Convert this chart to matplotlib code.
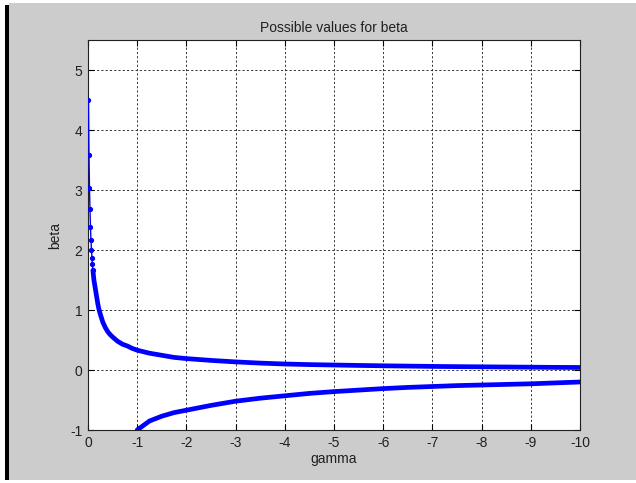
import matplotlib
matplotlib.use("Agg")
import matplotlib.pyplot as plt
from matplotlib.patches import Rectangle

plt.rcParams['font.family'] = ['Liberation Sans', 'DejaVu Sans']

title = "Possible values for beta"
xlabel = "gamma"
ylabel = "beta"
xticks = [0, -1, -2, -3, -4, -5, -6, -7, -8, -9, -10]
yticks = [-1, 0, 1, 2, 3, 4, 5]

gamma_upper = [-0.01, -0.02, -0.03, -0.04, -0.05, -0.06, -0.07, -0.08, -0.09, -0.10,
               -0.12, -0.14, -0.16, -0.18, -0.2, -0.22, -0.25, -0.3, -0.35, -0.4, -0.45,
               -0.5, -0.6, -0.7, -0.8, -0.9, -1.0, -1.25, -1.5, -1.75, -2.0, -2.5,
               -3.0, -3.5, -4.0, -4.5, -5.0, -5.5, -6.0, -6.5, -7.0, -7.5, -8.0,
               -8.5, -9.0, -9.5, -10.0]
beta_upper = [4.5, 3.58, 3.04, 2.68, 2.39, 2.17, 2.0, 1.87, 1.76, 1.66,
              1.5, 1.4, 1.3, 1.2, 1.1, 1.02, 0.93, 0.8, 0.71, 0.64, 0.59,
              0.55, 0.48, 0.43, 0.40, 0.36, 0.33, 0.28, 0.245, 0.21, 0.19, 0.16,
              0.135, 0.115, 0.10, 0.09, 0.083, 0.076, 0.07, 0.065, 0.06, 0.056, 0.053,
              0.05, 0.047, 0.044, 0.042]

gamma_lower = [-1.0, -1.1, -1.25, -1.5, -1.75, -2.0, -2.5, -3.0, -3.5, -4.0, -4.5,
               -5.0, -5.5, -6.0, -6.5, -7.0, -7.5, -8.0, -8.5, -9.0, -9.5, -10.0]
beta_lower = [-1.0, -0.94, -0.85, -0.77, -0.71, -0.67, -0.59, -0.52, -0.47, -0.43, -0.39,
              -0.36, -0.335, -0.31, -0.29, -0.275, -0.26, -0.25, -0.24, -0.23, -0.215, -0.2]

W, H = 636, 483
fig = plt.figure(figsize=(W / 100, H / 100), dpi=100, facecolor='white')
# gray figure panel and black left bar
fig.patches.append(Rectangle((9 / W, 3 / H), (W - 9) / W, (480 - 3) / H,
                             transform=fig.transFigure, facecolor='#cccccc',
                             edgecolor='none', zorder=-10))
fig.patches.append(Rectangle((5 / W, 3 / H), 4 / W, (478 - 3) / H,
                             transform=fig.transFigure, facecolor='black',
                             edgecolor='none', zorder=-10))

ax = fig.add_axes([88 / W, 1 - 430 / H, (580 - 88) / W, (430 - 40) / H])
ax.set_zorder(5)
ax.set_facecolor('white')

blue = '#0000ff'
n_sparse = 10
# thin line through the whole upper curve
ax.plot(gamma_upper, beta_upper, '-', color=blue, lw=1.0, zorder=3)
# sparse point markers on the steep part
ax.plot(gamma_upper[:n_sparse], beta_upper[:n_sparse], linestyle='none',
        color=blue, marker='.', ms=5.5, zorder=3)
# dense part rendered as a solid band
ax.plot(gamma_upper[n_sparse - 1:], beta_upper[n_sparse - 1:], '-', color=blue, lw=3.4,
        solid_capstyle='round', solid_joinstyle='round', zorder=3)
ax.plot(gamma_lower, beta_lower, '-', color=blue, lw=3.4,
        solid_capstyle='round', solid_joinstyle='round', zorder=3)

ax.set_xlim(0, -10)
ax.set_ylim(-1, 5.5)
ax.set_xticks(xticks)
ax.set_xticklabels([str(t) for t in xticks])
ax.set_yticks(yticks)
ax.set_yticklabels([str(t) for t in yticks])
ax.grid(True, color='#333333', linestyle=(0, (2.2, 2.2)), linewidth=0.7)
ax.tick_params(direction='in', length=4, width=0.8, top=True, right=True,
               labelsize=10, labelcolor='#202020', pad=4)
for s in ax.spines.values():
    s.set_color('#202020')
    s.set_linewidth(0.8)

ax.set_title(title, fontsize=10, color='#202020', pad=6)
ax.set_xlabel(xlabel, fontsize=10, color='#202020', labelpad=2)
ax.set_ylabel(ylabel, fontsize=10, color='#202020', labelpad=6)

fig.savefig('out.png', dpi=100, facecolor=fig.get_facecolor())
